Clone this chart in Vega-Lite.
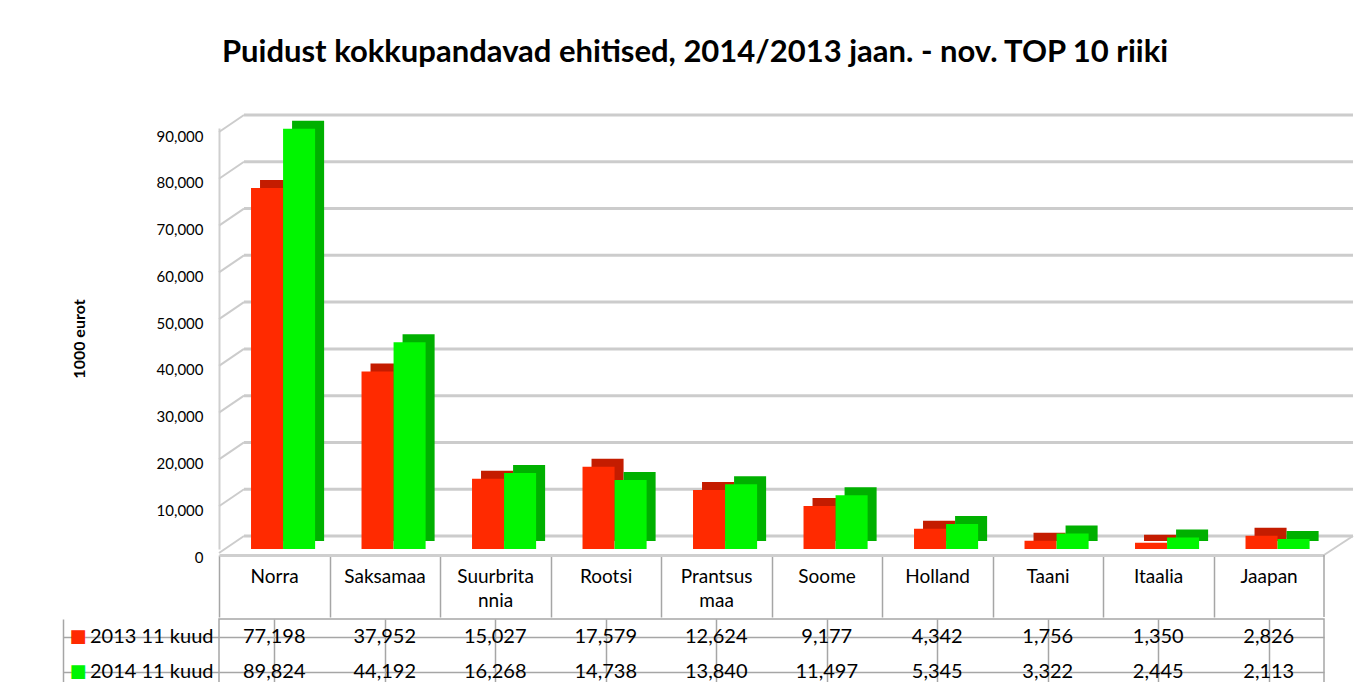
{
  "$schema": "https://vega.github.io/schema/vega-lite/v6.json",
  "background": "white",
  "padding": {"left": 61, "top": 36, "right": 0, "bottom": 0},
  "title": {
    "text": "Puidust kokkupandavad ehitised, 2014/2013 jaan. - nov. TOP 10 riiki",
    "font": "Lato",
    "fontSize": 31,
    "fontWeight": "bold",
    "color": "#000000",
    "anchor": "middle",
    "offset": 45,
    "dx": -13
  },
  "datasets": {
    "trade": [
      {"country": "Norra", "series": "2013 11 kuud", "value": 77198},
      {"country": "Saksamaa", "series": "2013 11 kuud", "value": 37952},
      {"country": "Suurbritannia", "series": "2013 11 kuud", "value": 15027},
      {"country": "Rootsi", "series": "2013 11 kuud", "value": 17579},
      {"country": "Prantsusmaa", "series": "2013 11 kuud", "value": 12624},
      {"country": "Soome", "series": "2013 11 kuud", "value": 9177},
      {"country": "Holland", "series": "2013 11 kuud", "value": 4342},
      {"country": "Taani", "series": "2013 11 kuud", "value": 1756},
      {"country": "Itaalia", "series": "2013 11 kuud", "value": 1350},
      {"country": "Jaapan", "series": "2013 11 kuud", "value": 2826},
      {"country": "Norra", "series": "2014 11 kuud", "value": 89824},
      {"country": "Saksamaa", "series": "2014 11 kuud", "value": 44192},
      {"country": "Suurbritannia", "series": "2014 11 kuud", "value": 16268},
      {"country": "Rootsi", "series": "2014 11 kuud", "value": 14738},
      {"country": "Prantsusmaa", "series": "2014 11 kuud", "value": 13840},
      {"country": "Soome", "series": "2014 11 kuud", "value": 11497},
      {"country": "Holland", "series": "2014 11 kuud", "value": 5345},
      {"country": "Taani", "series": "2014 11 kuud", "value": 3322},
      {"country": "Itaalia", "series": "2014 11 kuud", "value": 2445},
      {"country": "Jaapan", "series": "2014 11 kuud", "value": 2113}
    ],
    "ticks": [
      {"v": 0}, {"v": 10000}, {"v": 20000}, {"v": 30000}, {"v": 40000},
      {"v": 50000}, {"v": 60000}, {"v": 70000}, {"v": 80000}, {"v": 90000}
    ]
  },
  "spacing": 0,
  "vconcat": [
    {
      "width": 1105,
      "height": 421,
      "layer": [
        {
          "data": {"name": "ticks"},
          "mark": {"type": "rule", "color": "#cccccc", "strokeWidth": 3, "xOffset": 25, "x2Offset": 29, "yOffset": -13},
          "encoding": {
            "x": {"value": 0},
            "x2": {"value": "width"},
            "y": {
              "field": "v", "type": "quantitative",
              "scale": {"domain": [0, 90000], "nice": false},
              "axis": {
                "title": "1000 eurot", "titleFont": "Lato", "titleFontSize": 16, "titleFontWeight": "bold", "titleColor": "#000000", "titlePadding": 69,
                "domain": true, "domainColor": "#cfcfcf", "domainWidth": 2, "ticks": false, "grid": false,
                "values": [0, 10000, 20000, 30000, 40000, 50000, 60000, 70000, 80000, 90000],
                "format": ",d", "labelFont": "Lato", "labelFontSize": 15, "labelColor": "#000000", "labelPadding": 16, "labelOffset": 8
              }
            }
          }
        },
        {
          "data": {"name": "ticks"},
          "mark": {"type": "rule", "color": "#cccccc", "strokeWidth": 2, "yOffset": 4, "y2Offset": -13, "x2Offset": 25},
          "encoding": {
            "x": {"value": 0},
            "x2": {"value": 0},
            "y": {"field": "v", "type": "quantitative"},
            "y2": {"field": "v"}
          }
        },
        {
          "data": {"name": "ticks"},
          "transform": [{"filter": "datum.v === 0"}],
          "mark": {"type": "rule", "color": "#cccccc", "strokeWidth": 2, "yOffset": 6, "y2Offset": -13, "x2Offset": 29},
          "encoding": {
            "x": {"value": "width"},
            "x2": {"value": "width"},
            "y": {"field": "v", "type": "quantitative"},
            "y2": {"field": "v"}
          }
        },
        {
          "data": {"name": "ticks"},
          "transform": [{"filter": "datum.v === 0"}],
          "mark": {"type": "rule", "color": "#a6a6a6", "strokeWidth": 1.5, "yOffset": 6, "y2Offset": 68},
          "encoding": {
            "x": {"value": "width"},
            "y": {"field": "v", "type": "quantitative"},
            "y2": {"field": "v"}
          }
        },
        {
          "data": {"name": "trade"},
          "mark": {"type": "bar", "yOffset": -8, "y2Offset": -8},
          "encoding": {
            "x": {
              "field": "country", "type": "nominal",
              "sort": ["Norra", "Saksamaa", "Suurbritannia", "Rootsi", "Prantsusmaa", "Soome", "Holland", "Taani", "Itaalia", "Jaapan"],
              "scale": {"paddingInner": 0.42, "paddingOuter": 0.21, "align": 0.884},
              "axis": null
            },
            "xOffset": {"field": "series", "type": "nominal", "scale": {"paddingInner": 0, "paddingOuter": 0}},
            "y": {"field": "value", "type": "quantitative"},
            "color": {"condition": {"test": "datum.series === '2013 11 kuud'", "value": "#c41c00"}, "value": "#00b000"}
          }
        },
        {
          "data": {"name": "trade"},
          "mark": {"type": "bar"},
          "encoding": {
            "x": {
              "field": "country", "type": "nominal",
              "sort": ["Norra", "Saksamaa", "Suurbritannia", "Rootsi", "Prantsusmaa", "Soome", "Holland", "Taani", "Itaalia", "Jaapan"],
              "scale": {"paddingInner": 0.42, "paddingOuter": 0.21, "align": 0.69},
              "axis": {
                "title": null, "orient": "bottom", "offset": 6, "domainColor": "#cfcfcf", "domainWidth": 3,
                "tickColor": "#a6a6a6", "tickWidth": 1.5, "tickSize": 62, "bandPosition": 0, "tickOffset": -32,
                "labelOffset": 23, "labelPadding": -50, "labelBaseline": "top", "labelAngle": 0, "labelAlign": "center",
                "labelFont": "Lato", "labelFontSize": 19, "labelColor": "#000000", "labelLineHeight": 24,
                "labelOverlap": false, "labelBound": false, "labelLimit": 0, "grid": false,
                "labelExpr": "datum.value === 'Suurbritannia' ? ['Suurbrita', 'nnia'] : datum.value === 'Prantsusmaa' ? ['Prantsus', 'maa'] : datum.value"
              }
            },
            "xOffset": {"field": "series", "type": "nominal", "scale": {"paddingInner": 0, "paddingOuter": 0}},
            "y": {"field": "value", "type": "quantitative"},
            "color": {"condition": {"test": "datum.series === '2013 11 kuud'", "value": "#ff2a00"}, "value": "#00f500"}
          }
        }
      ],
      "resolve": {"scale": {"x": "independent"}, "axis": {"x": "independent"}}
    },
    {
      "width": 1105,
      "height": 70,
      "view": {"stroke": "#a6a6a6", "strokeWidth": 1.5},
      "data": {"name": "trade"},
      "encoding": {
        "x": {
          "field": "country", "type": "nominal",
          "sort": ["Norra", "Saksamaa", "Suurbritannia", "Rootsi", "Prantsusmaa", "Soome", "Holland", "Taani", "Itaalia", "Jaapan"],
          "scale": {"paddingInner": 0, "paddingOuter": 0},
          "axis": {"title": null, "labels": false, "ticks": false, "domain": false, "grid": true, "gridColor": "#a6a6a6", "gridWidth": 1.5, "bandPosition": 0}
        }
      },
      "layer": [
        {
          "mark": {"type": "text", "font": "Lato", "fontSize": 20, "color": "#000000"},
          "encoding": {
            "y": {
              "field": "series", "type": "nominal",
              "scale": {"paddingInner": 0, "paddingOuter": 0},
              "axis": {
                "orient": "left", "title": null, "domain": false, "ticks": true, "tickSize": 156, "tickColor": "#a6a6a6", "tickWidth": 1.5,
                "bandPosition": 0, "grid": true, "gridColor": "#a6a6a6", "gridWidth": 1.5,
                "labelPadding": -150, "labelFont": "Lato", "labelFontSize": 20, "labelColor": "#000000",
                "labelAlign": "right", "labelBaseline": "middle", "labelLimit": 0
              }
            },
            "text": {"field": "value", "type": "quantitative", "format": ","}
          }
        },
        {
          "mark": {"type": "point", "opacity": 0},
          "encoding": {
            "y": {
              "field": "series", "type": "nominal",
              "axis": {
                "orient": "left", "offset": 156, "title": null, "domain": true, "domainColor": "#a6a6a6", "domainWidth": 1.5,
                "ticks": false, "grid": false, "labelExpr": "'■'",
                "labelColor": {"condition": {"test": "datum.value === '2013 11 kuud'", "value": "#ff2a00"}, "value": "#00f500"},
                "labelAlign": "left", "labelPadding": -6, "labelFont": "DejaVu Sans", "labelFontSize": 18, "labelBaseline": "middle"
              }
            }
          }
        }
      ],
      "resolve": {"axis": {"y": "independent"}}
    }
  ],
  "config": {"font": "Lato", "view": {"stroke": null}}
}
